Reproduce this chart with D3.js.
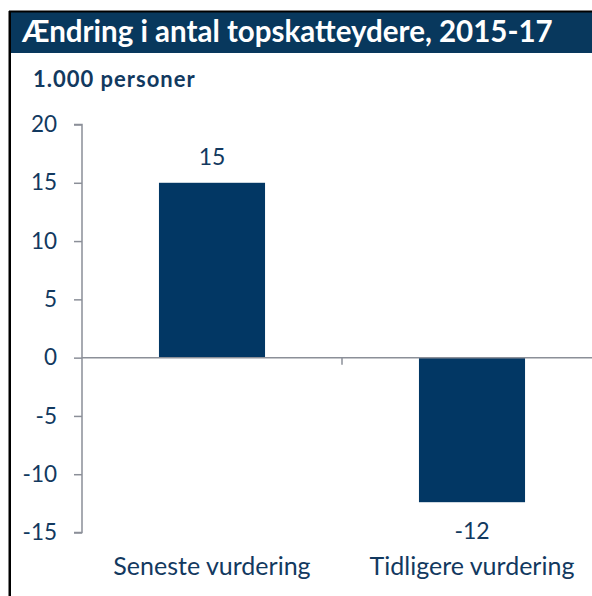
<!DOCTYPE html>
<html>
<head>
<meta charset="utf-8">
<script src="https://cdn.jsdelivr.net/npm/d3@7"></script>
<style>
  body { margin: 0; background: #fff; }
  svg { display: block; font-family: Lato, "Open Sans", sans-serif; }
</style>
</head>
<body>
<div id="chart"></div>
<script>
// Data
var categories = ["Seneste vurdering", "Tidligere vurdering"],
values = [15, -12.4],
yTicks = [20, 15, 10, 5, 0, -5, -10, -15],
title = "Ændring i antal topskatteydere, 2015-17",
unitLabel = "1.000 personer";

var width = 592, height = 596,
navy = "#08385d", barColor = "#023764", textColor = "#12395f", axisColor = "#8b8f98";

var svg = d3.select("#chart").append("svg")
  .attr("width", width)
  .attr("height", height);

// Frame and title bar
svg.append("rect").attr("x", 9).attr("y", 11).attr("width", width).attr("height", 42).attr("fill", navy);
svg.append("line").attr("x1", 9).attr("x2", width).attr("y1", 11.5).attr("y2", 11.5)
  .attr("stroke", "#000").attr("stroke-width", 2);
svg.append("line").attr("x1", 9.75).attr("x2", 9.75).attr("y1", 11).attr("y2", height)
  .attr("stroke", "#000").attr("stroke-width", 2.5);

svg.append("text").attr("x", 22).attr("y", 42)
  .attr("fill", "#fff").attr("font-size", 29.5).attr("font-weight", 700)
  .text(title);

svg.append("text").attr("x", 33).attr("y", 87)
  .attr("fill", textColor).attr("font-size", 22).attr("font-weight", 700)
  .attr("letter-spacing", 1)
  .text(unitLabel);

// Scales
var y = d3.scaleLinear().domain([-15, 20]).range([532.5, 124.5]);
var x = d3.scaleBand().domain(categories).range([82, 602])
  .paddingInner(0.592).paddingOuter(0.296);

var fmt = function(d) { return String(Math.round(d)); };

// Y axis
var yAxis = svg.append("g").attr("transform", "translate(82,0)")
  .call(d3.axisLeft(y).tickValues(yTicks).tickSize(8).tickPadding(17).tickFormat(fmt));
yAxis.select(".domain").attr("stroke", axisColor).attr("stroke-width", 1.5)
  .attr("d", "M-8," + y(20) + "H0V" + y(-15) + "H-8");
yAxis.selectAll(".tick line").attr("stroke", axisColor).attr("stroke-width", 1.5);
yAxis.selectAll(".tick text").attr("fill", textColor).attr("font-size", 22.5)
  .attr("font-family", "Lato, sans-serif");

// Bars
svg.selectAll("rect.bar").data(values).enter().append("rect")
  .attr("class", "bar")
  .attr("x", function(d, i) { return x(categories[i]); })
  .attr("width", x.bandwidth())
  .attr("y", function(d) { return y(Math.max(0, d)); })
  .attr("height", function(d) { return Math.abs(y(d) - y(0)); })
  .attr("fill", barColor);

// Zero line with category tick marks
svg.append("line").attr("x1", 82).attr("x2", width).attr("y1", y(0)).attr("y2", y(0))
  .attr("stroke", axisColor).attr("stroke-width", 1.5);
var step = x.step();
svg.selectAll("line.ctick").data(categories.slice(1)).enter().append("line")
  .attr("class", "ctick")
  .attr("x1", function(d) { return x(d) - x.paddingInner() * step / 2; })
  .attr("x2", function(d) { return x(d) - x.paddingInner() * step / 2; })
  .attr("y1", y(0)).attr("y2", y(0) + 7)
  .attr("stroke", axisColor).attr("stroke-width", 1.5);

// Value labels
svg.selectAll("text.val").data(values).enter().append("text")
  .attr("class", "val")
  .attr("x", function(d, i) { return x(categories[i]) + x.bandwidth() / 2; })
  .attr("y", function(d) { return d >= 0 ? y(d) - 18 : y(d) + 37; })
  .attr("text-anchor", "middle")
  .attr("fill", textColor).attr("font-size", 23)
  .text(fmt);

// Category labels
svg.selectAll("text.cat").data(categories).enter().append("text")
  .attr("class", "cat")
  .attr("x", function(d) { return x(d) + x.bandwidth() / 2; })
  .attr("y", 575)
  .attr("text-anchor", "middle")
  .attr("fill", textColor).attr("font-size", 25)
  .text(function(d) { return d; });
</script>
</body>
</html>
